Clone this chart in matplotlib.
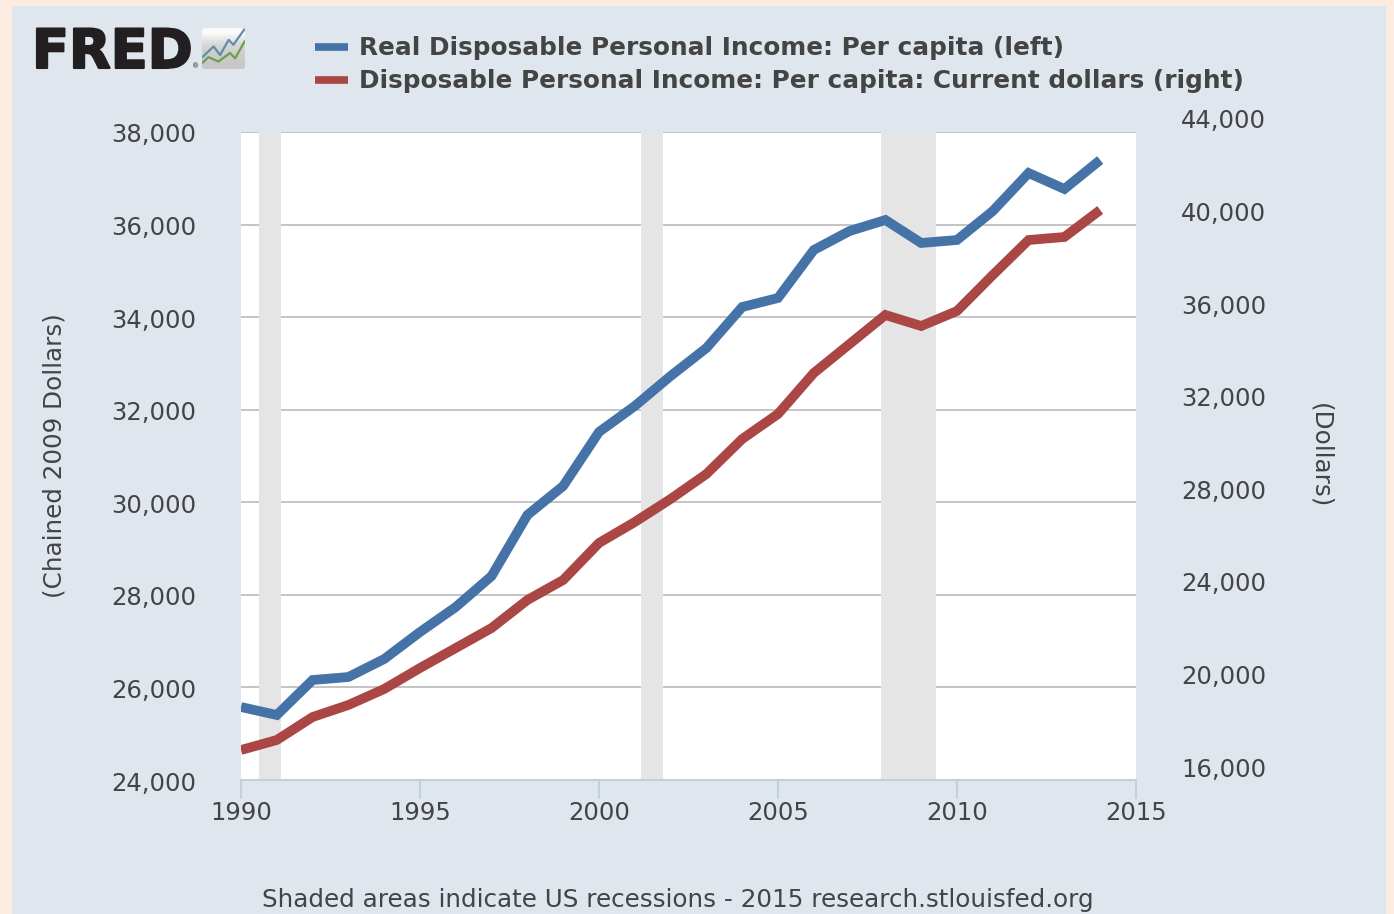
import matplotlib
matplotlib.use("Agg")
import matplotlib.pyplot as plt
import matplotlib.patheffects as pe
from matplotlib.patches import Rectangle, FancyBboxPatch
from matplotlib.transforms import ScaledTranslation
from matplotlib.lines import Line2D
import numpy as np

years = list(range(1990, 2015))
real_income = [25577, 25404, 26160, 26225, 26614, 27197, 27738, 28407, 29725, 30352,
               31519, 32080, 32728, 33333, 34219, 34414, 35451, 35861, 36099, 35602,
               35667, 36293, 37114, 36769, 37395]
current_income = [17296, 17728, 18722, 19241, 19932, 20840, 21704, 22568, 23778, 24642,
                  26241, 27148, 28142, 29222, 30735, 31815, 33586, 34840, 36093, 35617,
                  36265, 37821, 39333, 39463, 40630]
recessions = [(1990.5, 1991.12), (2001.17, 2001.79), (2007.88, 2009.42)]
left_ticks = [24000, 26000, 28000, 30000, 32000, 34000, 36000, 38000]
right_ticks = [16000, 20000, 24000, 28000, 32000, 36000, 40000, 44000]
x_ticks = [1990, 1995, 2000, 2005, 2010, 2015]
real_label = "Real Disposable Personal Income: Per capita (left)"
current_label = "Disposable Personal Income: Per capita: Current dollars (right)"
footer = "Shaded areas indicate US recessions - 2015 research.stlouisfed.org"

# little stock-chart icon beside the logo
icon_blue_x = [0.02, 0.27, 0.42, 0.62, 0.73, 0.98]
icon_blue_y = [0.30, 0.55, 0.34, 0.71, 0.59, 0.96]
icon_green_x = [0.02, 0.15, 0.38, 0.65, 0.77, 0.99]
icon_green_y = [0.16, 0.29, 0.18, 0.39, 0.26, 0.67]

W, H = 1394, 914
TEXT = "#444444"
plt.rcParams["font.family"] = ["DejaVu Sans"]

fig = plt.figure(figsize=(W / 100, H / 100), dpi=100, facecolor="#FCEBE1")


def box(x0, y0, x1, y1):
    # pixel box (y from the top) to figure fractions
    return [x0 / W, 1 - y1 / H, (x1 - x0) / W, (y1 - y0) / H]


l, b, w, h = box(12, 6, 1386, 914)
fig.patches.append(Rectangle((l, b), w, h, transform=fig.transFigure, facecolor="#DFE6EE",
                             edgecolor="none", zorder=-5))

ax = fig.add_axes(box(241, 132, 1136, 780))
ax.set_facecolor("white")
ax.set_xlim(1990, 2015)
ax.set_ylim(24000, 38000)
for s in ax.spines.values():
    s.set_visible(False)
ax.spines["bottom"].set_visible(True)
ax.spines["bottom"].set_color("#C0D0E0")
ax.spines["bottom"].set_linewidth(1.5)

for start, end in recessions:
    ax.axvspan(start, end, color="#E5E5E5", lw=0, zorder=1)

ax.set_yticks(left_ticks)
ax.set_yticklabels([f"{v:,}" for v in left_ticks])
ax.set_xticks(x_ticks)
ax.grid(axis="y", color="#C4C4C4", lw=1.4, zorder=2)
ax.set_axisbelow(True)
ax.tick_params(axis="y", length=0, pad=32, labelsize=17.5, labelcolor=TEXT)
ax.tick_params(axis="x", length=14, width=1.5, color="#C0D0E0", pad=1, labelsize=17.5, labelcolor=TEXT)
down = ScaledTranslation(0, -1 / 100, fig.dpi_scale_trans)
for t in ax.get_yticklabels():
    t.set_transform(t.get_transform() + down)

ax.plot(years, real_income, color="#4572A7", lw=7, solid_capstyle="butt", solid_joinstyle="miter", zorder=4)

ax2 = ax.twinx()
ax2.set_ylim(16000, 44000)
for s in ax2.spines.values():
    s.set_visible(False)
ax2.set_yticks(right_ticks)
ax2.set_yticklabels([f"{v:,}" for v in right_ticks])
ax2.tick_params(axis="y", length=0, pad=32.5, labelsize=17.5, labelcolor=TEXT)
shift = ScaledTranslation(0, 13 / 100, fig.dpi_scale_trans)
for t in ax2.get_yticklabels():
    t.set_transform(t.get_transform() + shift)
ax2.plot(years, current_income, color="#AA4643", lw=7, solid_capstyle="butt", solid_joinstyle="miter", zorder=4)

fig.text(55 / W, 1 - 456 / H, "(Chained 2009 Dollars)", rotation=90, ha="center", va="center",
         fontsize=17.7, color=TEXT)
fig.text(1320 / W, 1 - 456 / H, "(Dollars)", rotation=-90, ha="center", va="center",
         fontsize=17.7, color=TEXT)
fig.text(678 / W, 1 - 900 / H, footer, ha="center", va="center", fontsize=17.7, color=TEXT)

handles = [Line2D([], [], color="#4572A7", lw=5.5, solid_capstyle="butt"),
           Line2D([], [], color="#AA4643", lw=5.5, solid_capstyle="butt")]
leg = fig.legend(handles, [real_label, current_label], loc="upper left",
                 bbox_to_anchor=(308 / W, 1 - 29 / H), frameon=False, handlelength=1.3,
                 handletextpad=0.45, labelspacing=0.36, borderpad=0.3, borderaxespad=0,
                 prop={"size": 17.8, "weight": "bold"}, labelcolor=TEXT)

# FRED logo
fig.text(32 / W, 1 - 68 / H, "FRED", fontsize=39, fontweight="bold", color="#231F20", ha="left", va="baseline",
         path_effects=[pe.withStroke(linewidth=1.5, foreground="#231F20")])
fig.text(196 / W, 1 - 66 / H, "®", fontsize=5, color="#231F20", ha="center", va="center")

icon = fig.add_axes(box(202, 28, 245, 69))
icon.set_xlim(0, 1)
icon.set_ylim(0, 1)
icon.axis("off")
card = FancyBboxPatch((0.0, 0.0), 1.0, 1.0, boxstyle="round,pad=0,rounding_size=0.08",
                      facecolor="none", edgecolor="none", transform=icon.transData)
icon.add_patch(card)
shade = icon.imshow(np.array([[0.98], [0.85], [0.8], [0.78]]), extent=(0, 1, 0, 1), aspect="auto",
                    cmap="gray", vmin=0, vmax=1, interpolation="bilinear")
shade.set_clip_path(card)
icon.plot(icon_blue_x, icon_blue_y, color="#5F8FAB", lw=1.6)
icon.plot(icon_green_x, icon_green_y, color="#6E9E4A", lw=1.6)

fig.savefig("out.png", dpi=100, facecolor=fig.get_facecolor())
